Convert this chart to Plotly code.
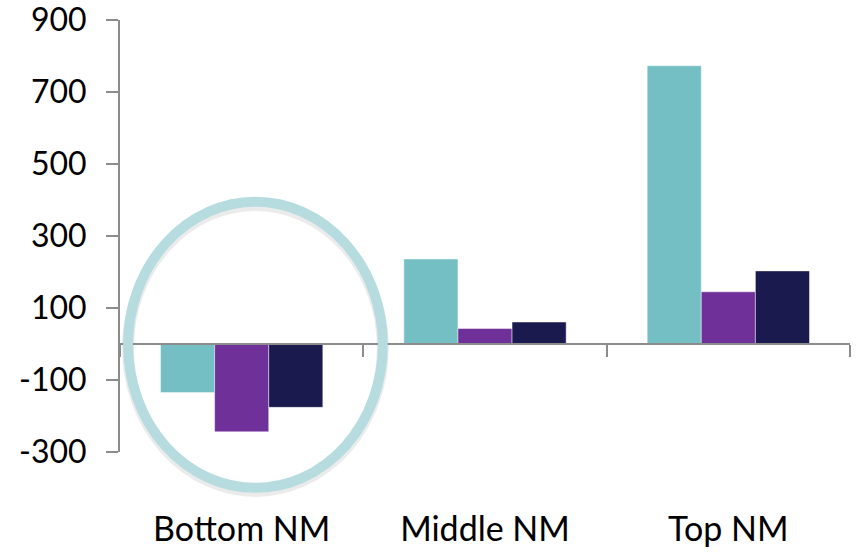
import plotly.graph_objects as go

# Net change by band, three series per band
categories = ["Bottom NM", "Middle NM", "Top NM"]
series_a = [-135, 236, 773]
series_b = [-244, 43, 145]
series_c = [-176, 61, 203]
colors = ["#74BFC4", "#70309A", "#1B1A4F"]

y_ticks = [-300, -100, 100, 300, 500, 700, 900]
y_tick_labels = ["-300", "-100", "100", "300", "500", "700", "900"]

font_family = "Lato, 'Open Sans', sans-serif"
axis_grey = "#8C8C8C"

fig = go.Figure()
for vals, col in zip([series_a, series_b, series_c], colors):
    fig.add_trace(go.Bar(
        x=categories, y=vals,
        marker=dict(color=col, line=dict(color="rgba(255,255,255,0.45)", width=1)),
        showlegend=False, hoverinfo="x+y",
    ))

# Highlight ring around the first band, with a soft shadow underneath
fig.add_shape(type="circle", xref="paper", yref="paper",
              x0=0.011, x1=0.360, y0=-0.090, y1=0.572,
              line=dict(color="rgba(0,0,0,0.08)", width=12), layer="above")
fig.add_shape(type="circle", xref="paper", yref="paper",
              x0=0.011, x1=0.360, y0=-0.083, y1=0.579,
              line=dict(color="#B6DCE0", width=10), layer="above")

fig.update_layout(
    width=861, height=554,
    margin=dict(l=120, r=11, t=20, b=102, autoexpand=False),
    paper_bgcolor="white", plot_bgcolor="white",
    barmode="group", bargap=0.333, bargroupgap=0,
    font=dict(family=font_family, size=30, color="#000000"),
    xaxis=dict(
        type="category", categoryorder="array", categoryarray=categories,
        range=[-0.5, 2.5], automargin=False,
        anchor="free", position=0.25,
        showline=True, linecolor=axis_grey, linewidth=2,
        ticks="outside", tickson="boundaries", ticklen=12, tickwidth=2, tickcolor=axis_grey,
        ticklabelstandoff=155, ticklabeloverflow="allow",
        showgrid=False, zeroline=False,
        tickfont=dict(family=font_family, size=34, color="#000000"),
    ),
    yaxis=dict(
        range=[-300, 900], tickvals=y_ticks, ticktext=y_tick_labels,
        automargin=False,
        showline=True, linecolor=axis_grey, linewidth=2,
        ticks="outside", ticklen=12, tickwidth=2, tickcolor=axis_grey,
        ticklabelstandoff=13, ticklabeloverflow="allow",
        showgrid=False, zeroline=False,
        tickfont=dict(family=font_family, size=32, color="#000000"),
    ),
)

fig.write_html("out.html")
